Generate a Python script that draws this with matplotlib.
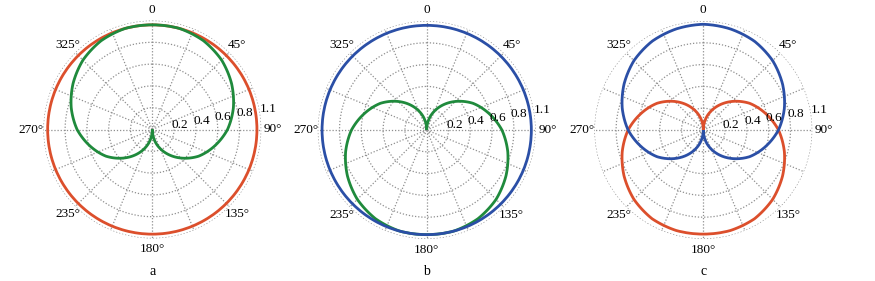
import numpy as np
import matplotlib
matplotlib.use("Agg")
import matplotlib.pyplot as plt
from matplotlib.path import Path
from matplotlib.patches import PathPatch

# ---- data (angles in degrees, clockwise from north) ----
theta_deg = [0, 15, 30, 45, 60, 75, 90, 105, 120, 135, 150, 165, 180,
             195, 210, 225, 240, 255, 270, 285, 300, 315, 330, 345, 360]

# panel a
a_red = [0.96] * 25
a_green = [0.96, 0.96, 0.94, 0.90, 0.84, 0.77, 0.69, 0.59, 0.49, 0.37, 0.25, 0.13, 0.0,
           0.13, 0.25, 0.37, 0.49, 0.59, 0.69, 0.77, 0.84, 0.90, 0.94, 0.96, 0.96]
# panel b
b_blue = [0.96] * 25
b_green = [0.0, 0.13, 0.25, 0.37, 0.49, 0.59, 0.69, 0.77, 0.84, 0.90, 0.94, 0.96, 0.96,
           0.96, 0.94, 0.90, 0.84, 0.77, 0.69, 0.59, 0.49, 0.37, 0.25, 0.13, 0.0]
# panel c
c_blue = [0.97, 0.96, 0.94, 0.90, 0.84, 0.77, 0.69, 0.59, 0.49, 0.37, 0.25, 0.13, 0.0,
          0.13, 0.25, 0.37, 0.49, 0.59, 0.69, 0.77, 0.84, 0.90, 0.94, 0.96, 0.97]
c_red = [0.0, 0.13, 0.25, 0.37, 0.49, 0.59, 0.69, 0.77, 0.84, 0.90, 0.94, 0.955, 0.955,
         0.955, 0.94, 0.90, 0.84, 0.77, 0.69, 0.59, 0.49, 0.37, 0.25, 0.13, 0.0]

ring_values = [0.2, 0.4, 0.6, 0.8]
ring_labels = ["0.2", "0.4", "0.6", "0.8", "1.1"]
angle_positions = [0, 45, 90, 135, 180, 225, 270, 315]
angle_labels = ["0", "45°", "90°", "135°", "180°", "235°", "270°", "325°"]
panel_labels = ["a", "b", "c"]

RED = "#dc4f2c"
GREEN = "#1f8a3c"
BLUE = "#2b4fa6"

plt.rcParams["font.family"] = ["Liberation Serif", "DejaVu Serif"]

fig = plt.figure(figsize=(8.75, 2.81), dpi=100)
W, H = 875, 281
R = 109
centers = [(152.3, 129.5), (426.7, 130.0), (703.3, 130.0)]

series = [
    [(a_red, RED), (a_green, GREEN)],
    [(b_green, GREEN), (b_blue, BLUE)],
    [(c_red, RED), (c_blue, BLUE)],
]

th = np.deg2rad(theta_deg)
grid_kw = dict(color="#8f8f8f", lw=0.9, ls=(0, (1, 1.5)))

for (cx, cy), ser, plab in zip(centers, series, panel_labels):
    ax = fig.add_axes([(cx - R) / W, (H - cy - R) / H, 2 * R / W, 2 * R / H],
                      projection="polar")
    ax.set_theta_zero_location("N")
    ax.set_theta_direction(-1)
    ax.set_ylim(0, 1.0)
    ax.grid(False)
    ax.set_xticks([])
    ax.set_yticks([])
    ax.spines["polar"].set_visible(False)
    ax.patch.set_alpha(0)

    tt = np.linspace(0, 2 * np.pi, 361)
    for rv in ring_values + [1.0]:
        ax.plot(tt, [rv] * len(tt), **grid_kw, zorder=1)
    for k in range(16):
        a = np.deg2rad(k * 22.5)
        ax.plot([a, a], [0.0, 1.0], **grid_kw, zorder=1)

    for vals, col in ser:
        path = Path(np.column_stack([th, vals]), _interpolation_steps=40)
        ax.add_patch(PathPatch(path, fill=False, edgecolor=col, lw=2.0,
                               zorder=3, transform=ax.transData))

    # radial labels
    for rv, lab in zip(ring_values + [1.02], ring_labels):
        ax.text(np.deg2rad(80), rv + 0.06, lab, ha="center", va="center",
                fontsize=9.5, zorder=4, clip_on=False)

    # angle labels
    for ang, lab in zip(angle_positions, angle_labels):
        rr = 1.10
        if ang in (90, 270):
            rr = 1.11
        ax.text(np.deg2rad(ang), rr, lab, ha="center", va="center",
                fontsize=9.5, clip_on=False)

    fig.text(cx / W, 1 - 271.5 / H, plab, ha="center", va="center", fontsize=10)

fig.savefig("out.png", dpi=100)
